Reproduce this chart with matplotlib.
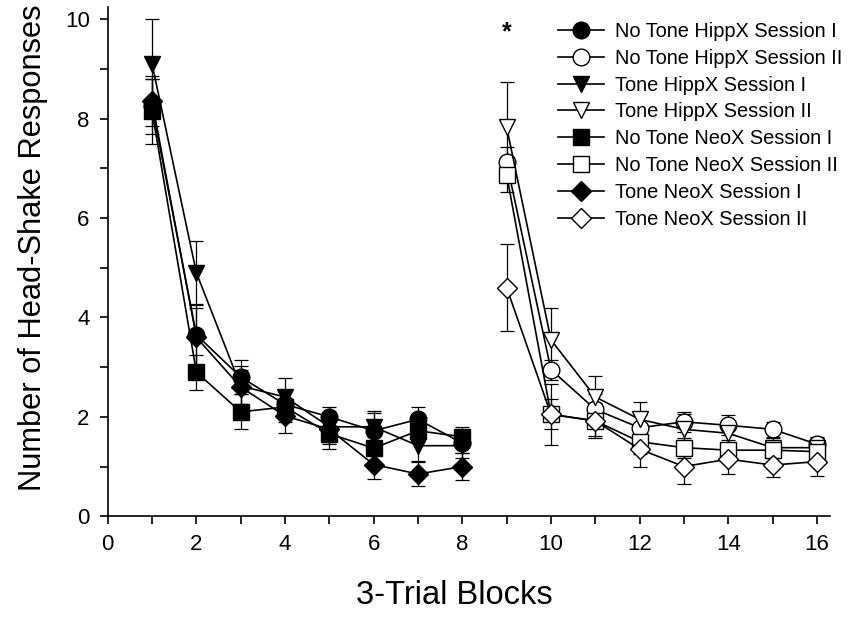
import matplotlib
matplotlib.use("Agg")
import matplotlib.pyplot as plt
import numpy as np

plt.rcParams['font.family'] = ['Liberation Sans', 'DejaVu Sans']

blocks_s1 = [1, 2, 3, 4, 5, 6, 7, 8]
blocks_s2 = [9, 10, 11, 12, 13, 14, 15, 16]

labels = ["No Tone HippX Session I", "No Tone HippX Session II",
          "Tone HippX Session I", "Tone HippX Session II",
          "No Tone NeoX Session I", "No Tone NeoX Session II",
          "Tone NeoX Session I", "Tone NeoX Session II"]

# Session I means / sem
nt_hipp_1 = [8.25, 3.65, 2.8, 2.25, 2.0, 1.72, 1.95, 1.47]
nt_hipp_1_err = [0.55, 0.6, 0.35, 0.3, 0.2, 0.35, 0.25, 0.2]
t_hipp_1 = [9.1, 4.9, 2.62, 2.4, 1.8, 1.8, 1.42, 1.42]
t_hipp_1_err = [0.9, 0.63, 0.4, 0.38, 0.3, 0.32, 0.3, 0.25]
nt_neo_1 = [8.15, 2.9, 2.1, 2.2, 1.66, 1.37, 1.72, 1.6]
nt_neo_1_err = [0.65, 0.35, 0.35, 0.3, 0.3, 0.3, 0.2, 0.2]
t_neo_1 = [8.35, 3.6, 2.6, 2.02, 1.75, 1.04, 0.85, 1.0]
t_neo_1_err = [0.5, 0.6, 0.35, 0.35, 0.3, 0.3, 0.25, 0.28]

# Session II means / sem
nt_hipp_2 = [7.12, 2.95, 2.15, 1.78, 1.9, 1.83, 1.75, 1.45]
nt_hipp_2_err = [0.3, 0.2, 0.3, 0.25, 0.2, 0.2, 0.15, 0.15]
t_hipp_2 = [7.83, 3.55, 2.4, 1.95, 1.75, 1.67, 1.38, 1.38]
t_hipp_2_err = [0.9, 0.65, 0.43, 0.35, 0.3, 0.25, 0.2, 0.2]
nt_neo_2 = [6.87, 2.05, 1.92, 1.5, 1.38, 1.33, 1.33, 1.3]
nt_neo_2_err = [0.35, 0.3, 0.3, 0.25, 0.2, 0.2, 0.15, 0.15]
t_neo_2 = [4.6, 2.05, 1.92, 1.35, 1.0, 1.15, 1.03, 1.1]
t_neo_2_err = [0.88, 0.62, 0.35, 0.35, 0.35, 0.3, 0.25, 0.28]

series = [
    (blocks_s1, nt_hipp_1, nt_hipp_1_err, 'o', 'black'),
    (blocks_s2, nt_hipp_2, nt_hipp_2_err, 'o', 'white'),
    (blocks_s1, t_hipp_1, t_hipp_1_err, 'v', 'black'),
    (blocks_s2, t_hipp_2, t_hipp_2_err, 'v', 'white'),
    (blocks_s1, nt_neo_1, nt_neo_1_err, 's', 'black'),
    (blocks_s2, nt_neo_2, nt_neo_2_err, 's', 'white'),
    (blocks_s1, t_neo_1, t_neo_1_err, 'D', 'black'),
    (blocks_s2, t_neo_2, t_neo_2_err, 'D', 'white'),
]

fig = plt.figure(figsize=(8.55, 6.22), dpi=100)
ax = fig.add_axes([0.126, 0.170, 0.845, 0.819])

sizes = {'o': 12, 'v': 12, 's': 11, 'D': 10}
handles = []
for (x, y, e, m, fc), lab in zip(series, labels):
    ax.errorbar(x, y, yerr=e, fmt='none', ecolor='black', elinewidth=0.9,
                capsize=5, capthick=0.9, zorder=2)
    h, = ax.plot(x, y, color='black', lw=1.2, marker=m, markersize=sizes[m],
                 markerfacecolor=fc, markeredgecolor='black', markeredgewidth=1.0,
                 label=lab, zorder=3)
    handles.append(h)

ax.text(9, 9.5, '*', ha='center', va='bottom', fontsize=18, fontweight='bold')

ax.set_xlim(0, 16.3)
ax.set_ylim(0, 10.25)
ax.set_xticks([0, 2, 4, 6, 8, 10, 12, 14, 16])
ax.set_xticks(np.arange(1, 17, 2), minor=True)
ax.set_yticks([0, 2, 4, 6, 8, 10])
ax.set_yticks([1, 3, 5, 7, 9], minor=True)
ax.tick_params(axis='both', which='both', direction='out', width=1.2, labelsize=16)
ax.tick_params(axis='both', which='major', length=6, pad=7)
ax.tick_params(axis='both', which='minor', length=6)
for s in ['top', 'right']:
    ax.spines[s].set_visible(False)
for s in ['left', 'bottom']:
    ax.spines[s].set_linewidth(1.2)

ax.set_xlabel('3-Trial Blocks', fontsize=23.5)
ax.xaxis.set_label_coords(0.48, -0.125)
ax.set_ylabel('Number of Head-Shake Responses', fontsize=22.2)
ax.yaxis.set_label_coords(-0.082, 0.527)

ax.legend(handles=handles, loc='upper right', bbox_to_anchor=(0.99, 0.971),
          bbox_transform=fig.transFigure,
          frameon=False, fontsize=14.4, handlelength=2.3, handletextpad=0.55,
          labelspacing=0.39, borderaxespad=0.0, borderpad=0.2)

fig.savefig('out.png', dpi=100)
